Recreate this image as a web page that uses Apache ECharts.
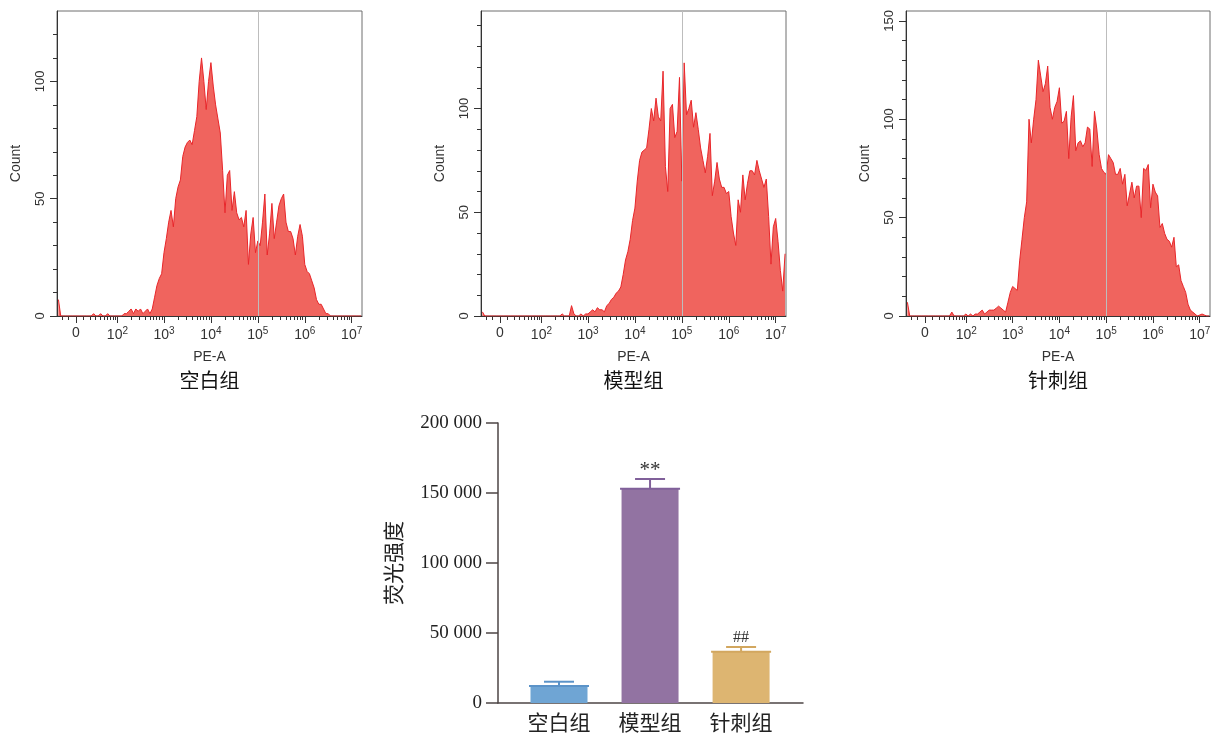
<!DOCTYPE html>
<html>
<head>
<meta charset="utf-8">
<script src="https://cdn.jsdelivr.net/npm/echarts@6/dist/echarts.min.js"></script>
<style>
html, body { margin: 0; padding: 0; background: #fff; }
#main { width: 1217px; height: 736px; }
</style>
</head>
<body>
<div id="main"></div>
<script>
// histogram bins, evenly spaced in display units of the PE-A axis
var binStart = 0.75, binStep = 0.05;

var countsBlank = [
    7, 0, 0, 0, 0, 0, 0, 0, 0, 0,
    0, 0, 0, 0, 0, 1, 0, 0, 1, 0,
    0, 1, 0, 0, 0, 0, 0, 0, 1, 1,
    2, 3, 1, 3, 2, 3, 1, 2, 3, 1,
    3, 8, 13, 16, 18, 27, 33, 40, 45, 38,
    50, 55, 58, 68, 72, 74, 75, 73, 79, 85,
    100, 110, 100, 88, 100, 108, 98, 90, 84, 78,
    62, 44, 60, 62, 45, 53, 44, 41, 42, 38,
    45, 22, 35, 42, 27, 32, 30, 40, 52, 26,
    35, 48, 33, 40, 47, 50, 52, 40, 36, 36,
    33, 26, 34, 39, 34, 22, 19, 18, 15, 12,
    7, 5, 5, 3, 1, 1, 0, 0, 0, 0,
    0, 0, 0, 0, 0, 0, 0, 0, 0, 0
];
var countsModel = [
    2, 0, 0, 0, 0, 0, 0, 0, 0, 0,
    0, 0, 0, 0, 0, 0, 0, 0, 0, 0,
    0, 0, 0, 0, 0, 0, 0, 0, 0, 0,
    0, 0, 0, 0, 1, 0, 0, 0, 5, 1,
    0, 0, 1, 0, 1, 1, 2, 3, 2, 4,
    3, 3, 2, 5, 6, 8, 9, 11, 12, 14,
    20, 27, 31, 37, 46, 52, 65, 75, 79, 80,
    81, 90, 100, 94, 105, 96, 94, 118, 72, 60,
    100, 102, 86, 89, 115, 65, 122, 97, 100, 104,
    91, 98, 90, 81, 75, 69, 77, 88, 58, 65,
    74, 66, 62, 62, 59, 60, 48, 40, 34, 56,
    50, 68, 56, 64, 70, 70, 68, 75, 70, 66,
    62, 66, 48, 25, 43, 47, 36, 22, 12, 30
];
var countsAcu = [
    7, 0, 0, 0, 0, 0, 0, 0, 0, 0,
    0, 0, 0, 0, 0, 0, 0, 0, 0, 2,
    0, 0, 0, 0, 0, 1, 0, 1, 0, 1,
    1, 2, 3, 1, 2, 3, 3, 3, 4, 5,
    4, 3, 2, 7, 12, 15, 14, 13, 28, 39,
    50, 58, 100, 88, 100, 110, 130, 122, 114, 118,
    127, 106, 100, 106, 109, 116, 98, 99, 104, 80,
    101, 112, 84, 88, 89, 86, 88, 96, 95, 76,
    104, 95, 82, 75, 73, 72, 82, 80, 78, 72,
    72, 75, 67, 72, 56, 62, 68, 60, 66, 66,
    50, 75, 74, 77, 55, 67, 63, 61, 45, 47,
    42, 39, 38, 35, 40, 25, 26, 18, 15, 12,
    6, 3, 2, 1, 0, 0.5, 1, 0.5, 0, 0
];

var groupNames = ['空白组', '模型组', '针刺组'];
var countMax = [130, 147, 155];
var countMajor = [[0, 50, 100], [0, 50, 100], [0, 50, 100, 150]];
var countMinor = [
    [10, 20, 30, 40, 60, 70, 80, 90, 110, 120],
    [10, 20, 30, 40, 60, 70, 80, 90, 110, 120, 130, 140],
    [10, 20, 30, 40, 60, 70, 80, 90, 110, 120, 130, 140]
];
var peMajor = [0, 1e2, 1e3, 1e4, 1e5, 1e6, 1e7];
var peLinearMinor = [-20, -10, 10, 20, 30, 40, 50, 60, 70, 80, 90];
var peDecades = [1e2, 1e3, 1e4, 1e5, 1e6];
var peSteps = [2, 3, 4, 5, 6, 7, 8, 9];
var gateValue = 1e5;

var barMeans = [12200, 153000, 36600];
var barErrTop = [15200, 160000, 40000];
var barMarks = ['', '**', '##'];
var barColors = ['#6fa5d4', '#9273a2', '#ddb571'];
var barEdge = ['#5b93c8', '#80609a', '#d2a75f'];

// biexponential display transform of the cytometer axis
var C = 13.34;
function toDisplay(v) { return Math.log10((v + Math.sqrt(v * v + 4 * C * C)) / 2); }

var peMinor = peLinearMinor.slice();
peDecades.forEach(function (d) {
    peSteps.forEach(function (m) { peMinor.push(d * m); });
});

var xMin = 0.72, xMax = 7.22;
var histGrids = [
    {left: 57, top: 11, width: 305, height: 305},
    {left: 481, top: 11, width: 305, height: 305},
    {left: 906, top: 11, width: 304, height: 305}
];
var histCounts = [countsBlank, countsModel, countsAcu];

var sansFont = '"Liberation Sans", Arial, sans-serif';
var serifFont = '"Liberation Serif", "Times New Roman", "Noto Sans CJK SC", serif';
var axisFont = {fontFamily: sansFont, fontSize: 14, color: '#333'};

var grids = [], xAxes = [], yAxes = [], series = [], graphics = [];

histCounts.forEach(function (counts, p) {
    var g = histGrids[p];
    grids.push({left: g.left, top: g.top, width: g.width, height: g.height,
        show: true, borderColor: '#6e6e6e', borderWidth: 1});

    xAxes.push({
        gridIndex: p, type: 'value', position: 'bottom', min: xMin, max: xMax,
        name: 'PE-A', nameLocation: 'middle', nameGap: 34, nameTextStyle: axisFont,
        axisLine: {show: true, onZero: false, lineStyle: {color: '#333', width: 1}},
        axisTick: {show: true, length: 7, customValues: peMajor.map(toDisplay), lineStyle: {color: '#333'}},
        axisLabel: {
            customValues: peMajor.map(toDisplay), margin: 10,
            formatter: function (v) {
                if (v < 1.5) return '{b|0}';
                return '{b|10}{s|' + Math.round(v) + '}';
            },
            rich: {
                b: {fontFamily: sansFont, fontSize: 14, color: '#333'},
                s: {fontFamily: sansFont, fontSize: 10, color: '#333', padding: [0, 0, 8, 0]}
            }
        },
        splitLine: {show: false}
    });
    xAxes.push({
        gridIndex: p, type: 'value', position: 'bottom', min: xMin, max: xMax,
        axisLine: {show: false, onZero: false},
        axisTick: {show: true, length: 4, customValues: peMinor.map(toDisplay), lineStyle: {color: '#333'}},
        axisLabel: {show: false},
        splitLine: {show: false}
    });

    yAxes.push({
        gridIndex: p, type: 'value', position: 'left', min: 0, max: countMax[p],
        name: 'Count', nameLocation: 'middle', nameGap: 34, nameTextStyle: axisFont,
        axisLine: {show: true, onZero: false, lineStyle: {color: '#333', width: 1}},
        axisTick: {show: true, length: 7, customValues: countMajor[p], lineStyle: {color: '#333'}},
        axisLabel: {customValues: countMajor[p], rotate: 90, margin: 10,
            fontFamily: sansFont, fontSize: 13, color: '#333'},
        splitLine: {show: false}
    });
    yAxes.push({
        gridIndex: p, type: 'value', position: 'left', min: 0, max: countMax[p],
        axisLine: {show: false, onZero: false},
        axisTick: {show: true, length: 4, customValues: countMinor[p], lineStyle: {color: '#333'}},
        axisLabel: {show: false},
        splitLine: {show: false}
    });

    series.push({
        type: 'line', xAxisIndex: 2 * p, yAxisIndex: 2 * p,
        data: counts.map(function (c, i) { return [binStart + i * binStep, c]; }),
        symbol: 'none', showSymbol: false,
        lineStyle: {color: '#e8262a', width: 1},
        areaStyle: {color: '#f0645e', opacity: 1},
        markLine: {
            silent: true, symbol: 'none', label: {show: false},
            lineStyle: {color: '#bdbdbd', type: 'solid', width: 1},
            data: [{xAxis: toDisplay(gateValue)}]
        }
    });

    graphics.push({
        type: 'text', x: g.left + g.width / 2, y: 383,
        style: {text: groupNames[p], fontSize: 20, fontFamily: serifFont, fill: '#111',
            align: 'center', verticalAlign: 'middle'}
    });
});

// bar chart of fluorescence intensity
grids.push({left: 498, top: 423, width: 305, height: 280, show: false});
xAxes.push({
    gridIndex: 3, type: 'value', position: 'bottom', min: -0.67, max: 2.68,
    axisLine: {show: true, onZero: false, lineStyle: {color: '#4d4545', width: 1.5}},
    axisTick: {show: false},
    axisLabel: {customValues: [0, 1, 2], margin: 11,
        formatter: function (v) { return groupNames[Math.round(v)]; },
        fontFamily: serifFont, fontSize: 21, color: '#222'},
    splitLine: {show: false}
});
yAxes.push({
    gridIndex: 3, type: 'value', position: 'left', min: 0, max: 200000, interval: 50000,
    name: '荧光强度', nameLocation: 'middle', nameGap: 92,
    nameTextStyle: {fontFamily: serifFont, fontSize: 21, color: '#222'},
    axisLine: {show: true, onZero: false, lineStyle: {color: '#4d4545', width: 1.5}},
    axisTick: {show: true, length: 12, lineStyle: {color: '#4d4545', width: 1.5}},
    axisLabel: {margin: 16, fontFamily: serifFont, fontSize: 19, color: '#222',
        formatter: function (v) { return String(v).replace(/\B(?=(\d{3})+(?!\d))/g, ' '); }},
    splitLine: {show: false}
});

series.push({
    type: 'bar', xAxisIndex: 6, yAxisIndex: 6, barWidth: 57,
    data: barMeans.map(function (v, i) {
        return {value: [i, v], itemStyle: {color: barColors[i]}};
    })
});
series.push({
    type: 'custom', xAxisIndex: 6, yAxisIndex: 6, z: 5,
    data: barMeans.map(function (v, i) { return [i, v, barErrTop[i]]; }),
    renderItem: function (params, api) {
        var i = params.dataIndex;
        var m = api.coord([api.value(0), api.value(1)]);
        var t = api.coord([api.value(0), api.value(2)]);
        var col = barEdge[i];
        return {
            type: 'group',
            children: [
                {type: 'line', shape: {x1: m[0] - 30, y1: m[1], x2: m[0] + 30, y2: m[1]},
                    style: {stroke: col, lineWidth: 2}},
                {type: 'line', shape: {x1: t[0], y1: m[1], x2: t[0], y2: t[1]},
                    style: {stroke: col, lineWidth: 2}},
                {type: 'line', shape: {x1: t[0] - 15, y1: t[1], x2: t[0] + 15, y2: t[1]},
                    style: {stroke: col, lineWidth: 2}},
                {type: 'text', x: t[0], y: t[1] - 9,
                    style: {text: barMarks[i], fontFamily: serifFont, fontSize: i === 1 ? 21 : 16,
                        fill: '#333', align: 'center', verticalAlign: 'middle'}}
            ]
        };
    }
});

var chart = echarts.init(document.getElementById('main'));
chart.setOption({
    animation: false,
    backgroundColor: '#fff',
    grid: grids,
    xAxis: xAxes,
    yAxis: yAxes,
    series: series,
    graphic: graphics
});
</script>
</body>
</html>
